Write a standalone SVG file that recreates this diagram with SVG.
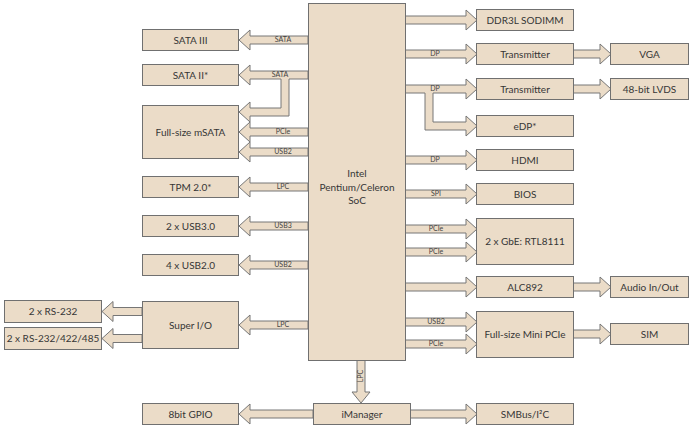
<svg xmlns="http://www.w3.org/2000/svg" width="698" height="430" viewBox="0 0 698 430">
<style>
.bx{fill:#ebdcc8;stroke:#707070;stroke-width:1}
.ar{fill:#ebdcc8;stroke:#767676;stroke-width:1;stroke-linejoin:miter}
.t{font-family:Lato,"Liberation Sans",sans-serif;font-size:10px;fill:#363636;text-anchor:middle}
.s{font-family:Lato,"Liberation Sans",sans-serif;font-size:7px;fill:#444444;text-anchor:middle}
</style>
<rect width="698" height="430" fill="#ffffff"/>
<g id="connectors">
<polygon class="ar" points="308,36 250,36 250,30 239,40 250,50 250,44 308,44"/>
<polygon class="ar" points="308,71 250,71 250,65 239,75 250,85 250,79 281,79 281,108 250,108 250,102 239,112 250,122 250,116 289,116 289,79 308,79"/>
<polygon class="ar" points="308,128 250,128 250,122 239,132 250,142 250,136 308,136"/>
<polygon class="ar" points="308,148 250,148 250,142 239,152 250,162 250,156 308,156"/>
<polygon class="ar" points="308,183 250,183 250,177 239,187 250,197 250,191 308,191"/>
<polygon class="ar" points="308,222 250,222 250,216 239,226 250,236 250,230 308,230"/>
<polygon class="ar" points="308,261 250,261 250,255 239,265 250,275 250,269 308,269"/>
<polygon class="ar" points="308,321 250,321 250,315 239,325 250,335 250,329 308,329"/>
<polygon class="ar" points="313,410 250,410 250,404 239,414 250,424 250,418 313,418"/>
<polygon class="ar" points="142,307.5 113,307.5 113,301.5 102,311.5 113,321.5 113,315.5 142,315.5"/>
<polygon class="ar" points="142,334.5 113,334.5 113,328.5 102,338.5 113,348.5 113,342.5 142,342.5"/>
<polygon class="ar" points="405,16 466,16 466,10 477,20 466,30 466,24 405,24"/>
<polygon class="ar" points="405,50 466,50 466,44 477,54 466,64 466,58 405,58"/>
<polygon class="ar" points="405,85 466,85 466,79 477,89 466,99 466,93 433,93 433,122 466,122 466,116 477,126 466,136 466,130 425,130 425,93 405,93"/>
<polygon class="ar" points="405,156 466,156 466,150 477,160 466,170 466,164 405,164"/>
<polygon class="ar" points="405,190 466,190 466,184 477,194 466,204 466,198 405,198"/>
<polygon class="ar" points="405,225 466,225 466,219 477,229 466,239 466,233 405,233"/>
<polygon class="ar" points="405,248 466,248 466,242 477,252 466,262 466,256 405,256"/>
<polygon class="ar" points="405,283 466,283 466,277 477,287 466,297 466,291 405,291"/>
<polygon class="ar" points="405,318 466,318 466,312 477,322 466,332 466,326 405,326"/>
<polygon class="ar" points="405,340 466,340 466,334 477,344 466,354 466,348 405,348"/>
<polygon class="ar" points="410,410 466,410 466,404 477,414 466,424 466,418 410,418"/>
<polygon class="ar" points="573,50 600,50 600,44 611,54 600,64 600,58 573,58"/>
<polygon class="ar" points="573,85 600,85 600,79 611,89 600,99 600,93 573,93"/>
<polygon class="ar" points="573,283 600,283 600,277 611,287 600,297 600,291 573,291"/>
<polygon class="ar" points="573,330 600,330 600,324 611,334 600,344 600,338 573,338"/>
<polygon class="ar" points="357,360 357,392 352,392 361,403 370,392 365,392 365,360"/>
<text class="s" x="283" y="42.4">SATA</text>
<text class="s" x="280" y="77.4">SATA</text>
<text class="s" x="283" y="134.4">PCIe</text>
<text class="s" x="283" y="154.4">USB2</text>
<text class="s" x="283" y="189.4">LPC</text>
<text class="s" x="283" y="228.4">USB3</text>
<text class="s" x="283" y="267.4">USB2</text>
<text class="s" x="283" y="327.4">LPC</text>
<text class="s" x="435" y="56.4">DP</text>
<text class="s" x="435" y="91.4">DP</text>
<text class="s" x="435" y="162.4">DP</text>
<text class="s" x="436" y="196.4">SPI</text>
<text class="s" x="436" y="231.4">PCIe</text>
<text class="s" x="436" y="254.4">PCIe</text>
<text class="s" x="436" y="324.4">USB2</text>
<text class="s" x="436" y="346.4">PCIe</text>
<text class="s" transform="translate(363.4,376) rotate(-90)">LPC</text>
</g>
<g id="soc"><rect class="bx" x="308.5" y="3.5" width="97" height="357"/>
<text class="t" font-size="11" x="357" y="177">Intel</text>
<text class="t" font-size="11" x="357" y="190.5">Pentium/Celeron</text>
<text class="t" font-size="11" x="357" y="204">SoC</text></g>
<g id="sata3"><rect class="bx" x="142.5" y="29.5" width="96" height="21"/><text class="t" x="190.5" y="43.5">SATA III</text></g>
<g id="sata2"><rect class="bx" x="142.5" y="64.5" width="96" height="21"/><text class="t" x="190.5" y="78.5">SATA II*</text></g>
<g id="msata"><rect class="bx" x="142.5" y="105.5" width="96" height="53"/><text class="t" x="190.5" y="135.5">Full-size mSATA</text></g>
<g id="tpm"><rect class="bx" x="142.5" y="176.5" width="96" height="21"/><text class="t" x="190.5" y="190.5">TPM 2.0*</text></g>
<g id="usb3"><rect class="bx" x="142.5" y="215.5" width="96" height="21"/><text class="t" x="190.5" y="229.5">2 x USB3.0</text></g>
<g id="usb2"><rect class="bx" x="142.5" y="254.5" width="96" height="21"/><text class="t" x="190.5" y="268.5">4 x USB2.0</text></g>
<g id="superio"><rect class="bx" x="142.5" y="301.5" width="96" height="47"/><text class="t" x="190.5" y="328.5">Super I/O</text></g>
<g id="gpio"><rect class="bx" x="142.5" y="403.5" width="96" height="21"/><text class="t" x="190.5" y="417.5">8bit GPIO</text></g>
<g id="rs232"><rect class="bx" x="4.5" y="300.5" width="97" height="22"/><text class="t" x="53" y="315">2 x RS-232</text></g>
<g id="rs485"><rect class="bx" x="4.5" y="327.5" width="97" height="22"/><text class="t" x="53" y="342">2 x RS-232/422/485</text></g>
<g id="imanager"><rect class="bx" x="313.5" y="403.5" width="97" height="21"/><text class="t" x="362" y="417.5">iManager</text></g>
<g id="ddr"><rect class="bx" x="476.5" y="9.5" width="97" height="21"/><text class="t" x="525" y="23.5">DDR3L SODIMM</text></g>
<g id="tx1"><rect class="bx" x="476.5" y="43.5" width="97" height="21"/><text class="t" x="525" y="57.5">Transmitter</text></g>
<g id="tx2"><rect class="bx" x="476.5" y="78.5" width="97" height="21"/><text class="t" x="525" y="92.5">Transmitter</text></g>
<g id="edp"><rect class="bx" x="476.5" y="115.5" width="97" height="21"/><text class="t" x="525" y="129.5">eDP*</text></g>
<g id="hdmi"><rect class="bx" x="476.5" y="149.5" width="97" height="21"/><text class="t" x="525" y="163.5">HDMI</text></g>
<g id="bios"><rect class="bx" x="476.5" y="183.5" width="97" height="21"/><text class="t" x="525" y="197.5">BIOS</text></g>
<g id="gbe"><rect class="bx" x="476.5" y="218.5" width="97" height="46"/><text class="t" x="525" y="245">2 x GbE: RTL8111</text></g>
<g id="alc"><rect class="bx" x="476.5" y="276.5" width="97" height="21"/><text class="t" x="525" y="290.5">ALC892</text></g>
<g id="minipcie"><rect class="bx" x="476.5" y="311.5" width="97" height="46"/><text class="t" x="525" y="338">Full-size Mini PCIe</text></g>
<g id="smbus"><rect class="bx" x="476.5" y="403.5" width="97" height="21"/><text class="t" x="525" y="417.5">SMBus/I²C</text></g>
<g id="vga"><rect class="bx" x="610.5" y="43.5" width="78" height="21"/><text class="t" x="649.5" y="57.5">VGA</text></g>
<g id="lvds"><rect class="bx" x="610.5" y="78.5" width="78" height="21"/><text class="t" x="649.5" y="92.5">48-bit LVDS</text></g>
<g id="audio"><rect class="bx" x="610.5" y="276.5" width="78" height="21"/><text class="t" x="649.5" y="290.5">Audio In/Out</text></g>
<g id="sim"><rect class="bx" x="610.5" y="323.5" width="78" height="21"/><text class="t" x="649.5" y="337.5">SIM</text></g>
</svg>
